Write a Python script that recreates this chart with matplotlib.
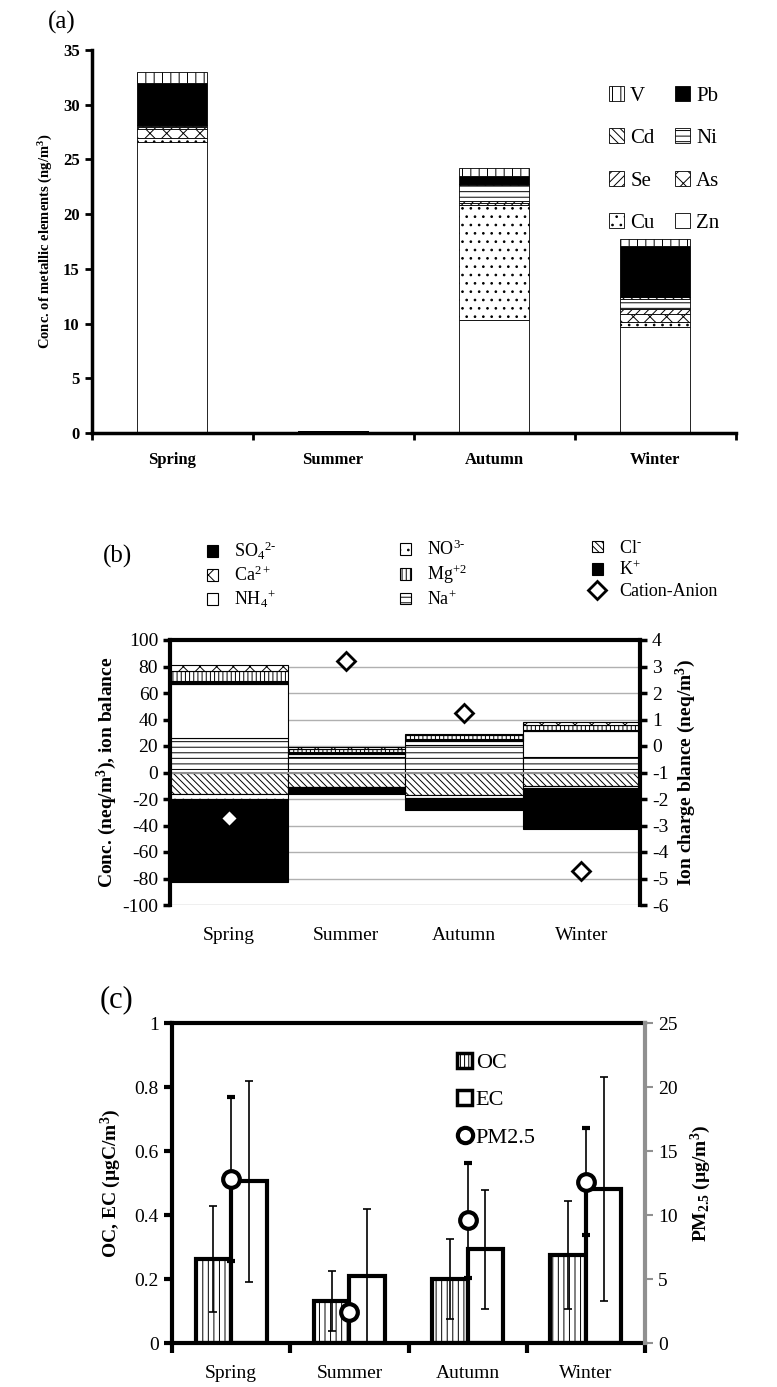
import numpy as np
import matplotlib
matplotlib.use('Agg')
import matplotlib.pyplot as plt
from matplotlib.patches import Patch
from matplotlib.lines import Line2D

plt.rcParams['font.family'] = ['Liberation Serif', 'DejaVu Serif']
plt.rcParams['mathtext.fontset'] = 'custom'
plt.rcParams['mathtext.rm'] = 'Liberation Serif'
plt.rcParams['mathtext.it'] = 'Liberation Serif:italic'
plt.rcParams['mathtext.bf'] = 'Liberation Serif:bold'
plt.rcParams['hatch.linewidth'] = 0.7
plt.rcParams['axes.unicode_minus'] = False

seasons = ['Spring', 'Summer', 'Autumn', 'Winter']

# (a) metallic elements, ng/m3 (stack bottom -> top)
zn = [26.6, 0.10, 10.3, 9.7]
cu = [0.4, 0.02, 10.5, 0.4]
as_ = [0.8, 0.01, 0.2, 0.8]
se = [0.15, 0.01, 0.2, 0.4]
ni = [0.15, 0.02, 1.5, 0.9]
cd = [0.05, 0.01, 0.1, 0.2]
pb = [3.85, 0.03, 0.7, 4.7]
v = [1.0, 0.02, 0.7, 0.6]

# (b) ions, neq/m3
na = [26, 12, 21, 12]
nh4 = [41, 2, 3, 19]
k = [2.2, 1.5, 1, 1]
mg = [7.5, 2, 3, 4]
ca = [4.3, 2, 1, 2]
cl = [-16.4, -10.7, -17.0, -10.0]
no3 = [-3.5, -0.5, -2.5, -1.5]
so4 = [-63, -5, -8.5, -31]
balance = [-2.7, 3.2, 1.25, -4.7]

# (c) carbon and PM2.5
oc = [0.262, 0.131, 0.20, 0.275]
oc_err = [0.165, 0.093, 0.125, 0.168]
ec = [0.505, 0.21, 0.293, 0.48]
ec_err = [0.315, 0.21, 0.186, 0.35]
pm = [12.8, 2.4, 9.6, 12.6]
pm_err = [6.4, 0.6, 4.5, 4.2]

W, H = 777, 1387
fig = plt.figure(figsize=(W / 100, H / 100), dpi=100)
x = np.arange(len(seasons))

# ---------------- (a)
ax1 = fig.add_axes([91.5 / W, 1 - 433 / H, 644 / W, 383 / H])
layers = [('Zn', zn, 'white', ''), ('Cu', cu, 'white', '..'),
          ('As', as_, 'white', 'xx'), ('Se', se, 'white', '////'),
          ('Ni', ni, 'white', '---'), ('Cd', cd, 'white', '\\\\\\\\'),
          ('Pb', pb, 'black', ''), ('V', v, 'white', '||')]
bottom = np.zeros(4)
handles = {}
for name, vals, fc, hatch in layers:
    b = ax1.bar(x, vals, 0.43, bottom=bottom, color=fc, edgecolor='black',
                hatch=hatch, linewidth=0.6)
    handles[name] = b
    bottom += np.array(vals)
ax1.set_xlim(-0.5, 3.5)
ax1.set_ylim(0, 35)
ax1.set_yticks(range(0, 36, 5))
ax1.set_xticks([-0.5, 0.5, 1.5, 2.5, 3.5])
ax1.set_xticklabels([])
ax1.set_xticks(x, minor=True)
ax1.set_xticklabels(seasons, minor=True, fontweight='bold', fontsize=12)
ax1.tick_params(axis='x', which='minor', length=0, pad=14)
ax1.tick_params(axis='x', which='major', length=5, width=2)
ax1.tick_params(axis='y', length=5, width=2, labelsize=12)
for lab in ax1.get_yticklabels():
    lab.set_fontweight('bold')
for s in ['top', 'right']:
    ax1.spines[s].set_visible(False)
for s in ['left', 'bottom']:
    ax1.spines[s].set_linewidth(2.5)
ax1.set_ylabel(r'Conc. of metallic elements (ng/m$^{\mathbf{3}}$)',
               fontweight='bold', fontsize=10.5, labelpad=6)
order = ['V', 'Cd', 'Se', 'Cu', 'Pb', 'Ni', 'As', 'Zn']
ax1.legend([handles[n] for n in order], order, ncol=2, loc='upper left',
           bbox_to_anchor=(0.775, 0.955), frameon=False, fontsize=15,
           handlelength=0.7, handleheight=0.7, handletextpad=0.3,
           labelspacing=1.1, columnspacing=1.0)
fig.text(48 / W, 1 - 22 / H, '(a)', fontsize=18, va='center')

# ---------------- (b)
ax2 = fig.add_axes([170 / W, 1 - 905 / H, 470 / W, 265 / H])
ax2.set_yticks(range(-100, 101, 20))
ax2.grid(axis='y', color='#b0b0b0', linewidth=1)
ax2.set_axisbelow(True)
pos = [('Na+', na, 'white', '---'), ('NH4+', nh4, 'white', ''),
       ('K+', k, 'black', ''), ('Mg+2', mg, 'white', '||||'),
       ('Ca2+', ca, 'white', 'xx')]
neg = [('Cl-', cl, 'white', '\\\\\\\\\\'), ('NO3-', no3, 'white', '..'),
       ('SO42-', so4, 'black', '')]
ion_h = {}
for group in (pos, neg):
    bottom = np.zeros(4)
    for name, vals, fc, hatch in group:
        b = ax2.bar(x, vals, 1.0, bottom=bottom, color=fc, edgecolor='black',
                    hatch=hatch, linewidth=0.8)
        ion_h[name] = b
        bottom += np.array(vals)
ax2.axhline(0, color='#909090', linewidth=1.5)
ax2.set_xlim(-0.5, 3.5)
ax2.set_ylim(-100, 100)
ax2.set_xticks(x)
ax2.set_xticklabels(seasons, fontsize=14)
ax2.tick_params(axis='x', length=0, pad=16)
ax2.tick_params(axis='y', length=5, width=2.5, labelsize=14)
ax2.spines['bottom'].set_visible(False)
for s in ['top', 'left', 'right']:
    ax2.spines[s].set_linewidth(3)
ax2.set_ylabel(r'Conc. (neq/m$^{\mathbf{3}}$), ion balance', fontweight='bold',
               fontsize=14, labelpad=2)
ax2r = ax2.twinx()
dia = ax2r.plot(x, balance, 'D', markersize=9, markerfacecolor='white',
                markeredgecolor='black', markeredgewidth=2)[0]
ax2r.set_ylim(-6, 4)
ax2r.set_yticks(range(-6, 5))
ax2r.tick_params(axis='y', length=5, width=2.5, labelsize=14)
for s in ['top', 'left', 'right', 'bottom']:
    ax2r.spines[s].set_visible(False)
ax2r.set_ylabel(r'Ion charge blance (neq/m$^{\mathbf{3}}$)', fontweight='bold',
                fontsize=14, labelpad=4)
leg_cols = [
    ([ion_h['SO42-'], ion_h['Ca2+'], ion_h['NH4+']],
     [r'SO$_4$$^{2‐}$', r'Ca$^{2+}$', r'NH$_4$$^{+}$'], 198),
    ([ion_h['NO3-'], ion_h['Mg+2'], ion_h['Na+']],
     [r'NO$^{3‐}$', r'Mg$^{+2}$', r'Na$^{+}$'], 391),
    ([ion_h['Cl-'], ion_h['K+'], dia],
     [r'Cl$^{‐}$', r'K$^{+}$', 'Cation-Anion'], 583),
]
for hs, ls, xl in leg_cols:
    fig.legend(hs, ls, loc='upper left', bbox_to_anchor=(xl / W, 1 - 531 / H),
               frameon=False, fontsize=13, handlelength=0.6, handleheight=0.6,
               handletextpad=0.9, labelspacing=0.2, borderpad=0)
fig.text(103 / W, 1 - 556 / H, '(b)', fontsize=18, va='center')

# ---------------- (c)
ax3 = fig.add_axes([172 / W, 1 - 1343 / H, 473 / W, 320 / H])
bw = 0.3
err_kw = dict(ecolor='black', elinewidth=1.2, capsize=3, capthick=1.2)
ocb = ax3.bar(x - bw / 2, oc, bw, yerr=oc_err, color='white', edgecolor='black',
              hatch='|||', linewidth=3, error_kw=err_kw)
ecb = ax3.bar(x + bw / 2, ec, bw, yerr=ec_err, color='white', edgecolor='black',
              linewidth=3, error_kw=err_kw)
ax3.set_xlim(-0.5, 3.5)
ax3.set_ylim(0, 1)
ax3.set_yticks([0, 0.2, 0.4, 0.6, 0.8, 1])
ax3.set_yticklabels(['0', '0.2', '0.4', '0.6', '0.8', '1'])
ax3.set_xticks([-0.5, 0.5, 1.5, 2.5, 3.5])
ax3.set_xticklabels([])
ax3.set_xticks(x, minor=True)
ax3.set_xticklabels(seasons, minor=True, fontsize=14)
ax3.tick_params(axis='x', which='major', direction='out', length=7, width=3)
ax3.tick_params(axis='x', which='minor', length=0, pad=16)
ax3.tick_params(axis='y', length=6, width=3, labelsize=14)
for s in ['top', 'left', 'bottom']:
    ax3.spines[s].set_linewidth(3)
ax3.spines['right'].set_visible(False)
ax3.set_ylabel(r'OC, EC (µgC/m$^{\mathbf{3}}$)', fontweight='bold', fontsize=14,
               labelpad=8)
ax3r = ax3.twinx()
pmh = ax3r.errorbar(x, pm, yerr=pm_err, fmt='o', markersize=12,
                    markerfacecolor='white', markeredgecolor='black',
                    markeredgewidth=3, ecolor='black', elinewidth=1.2,
                    capsize=3, capthick=1.2)
ax3r.set_ylim(0, 25)
ax3r.set_yticks(range(0, 26, 5))
ax3r.tick_params(axis='y', length=6, width=1.5, color='#909090', labelsize=14)
for s in ['top', 'left', 'bottom']:
    ax3r.spines[s].set_visible(False)
ax3r.spines['right'].set_color('#909090')
ax3r.spines['right'].set_linewidth(3)
ax3r.set_ylabel(r'PM$_{\mathbf{2.5}}$ (µg/m$^{\mathbf{3}}$)', fontweight='bold',
                fontsize=14, labelpad=8)
oc_h = Patch(facecolor='white', edgecolor='black', hatch='||||', linewidth=2.5)
ec_h = Patch(facecolor='white', edgecolor='black', linewidth=2.5)
pm_h = Line2D([], [], marker='o', linestyle='none', markersize=11,
              markerfacecolor='white', markeredgecolor='black', markeredgewidth=3)
ax3r.legend([oc_h, ec_h, pm_h], ['OC', 'EC', 'PM2.5'], loc='upper left',
            bbox_to_anchor=(0.56, 0.97), frameon=False, fontsize=16,
            handlelength=0.7, handleheight=0.7, handletextpad=0.15,
            labelspacing=0.75)
fig.text(100 / W, 1 - 1000 / H, '(c)', fontsize=22, va='center')

fig.savefig('out.png', dpi=100)
